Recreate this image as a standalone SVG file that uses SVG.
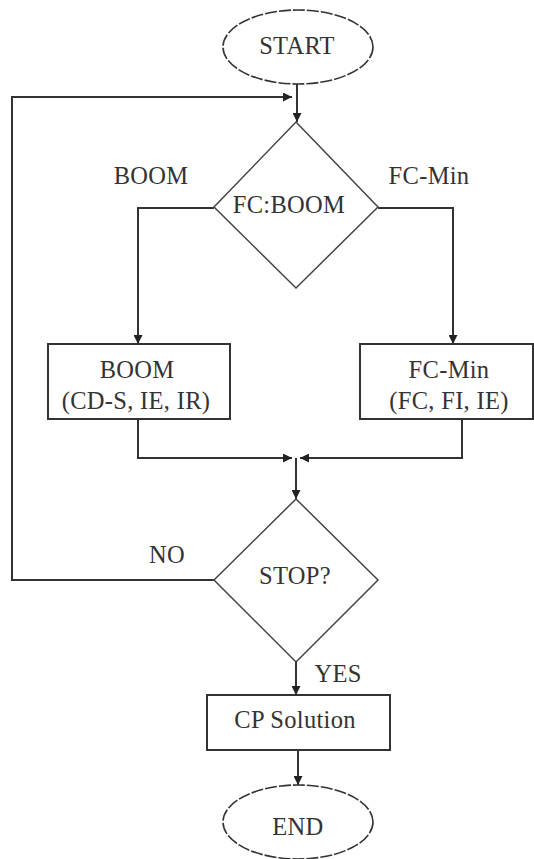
<svg xmlns="http://www.w3.org/2000/svg" width="534" height="859" viewBox="0 0 534 859">
  <defs>
    <marker id="arrow" viewBox="0 0 10 10" refX="10" refY="5" markerWidth="4.5" markerHeight="4.5" orient="auto" markerUnits="strokeWidth">
      <path d="M0,0 L10,5 L0,10 z" fill="#222"/>
    </marker>
    <style>
      .shape { fill: #fff; stroke: #333; stroke-width: 2; }
      .diamond { fill: #fff; stroke: #444; stroke-width: 1.5; }
      .term { fill: #fff; stroke: #333; stroke-width: 1.6; stroke-dasharray: 12 2; }
      .edge { fill: none; stroke: #333; stroke-width: 2; }
      .arr { marker-end: url(#arrow); }
      text { font-family: 'Liberation Serif', 'Times New Roman', serif; font-size: 24.5px; letter-spacing: 0.3px; fill: #333; text-anchor: middle; }
    </style>
  </defs>
  <rect width="534" height="859" fill="#fff"/>

  <g id="connectors">
    <path class="edge arr" d="M297,84 V122"/>
    <path class="edge arr" d="M214,580 H12 V97 H292"/>
    <path class="edge arr" d="M214,208 H138 V344"/>
    <path class="edge arr" d="M378,208 H453 V344"/>
    <path class="edge arr" d="M138,419 V458 H292"/>
    <path class="edge arr" d="M462,419 V458 H300"/>
    <path class="edge arr" d="M296,458 V499"/>
    <path class="edge arr" d="M296,662 V695"/>
    <path class="edge arr" d="M298,750 V785"/>
    <text x="151" y="184">BOOM</text>
    <text x="429" y="184">FC-Min</text>
    <text x="167" y="563">NO</text>
    <text x="338" y="682">YES</text>
  </g>

  <g id="start">
    <ellipse class="term" cx="298" cy="47" rx="75" ry="37"/>
    <text x="297" y="54">START</text>
  </g>

  <g id="fc-boom">
    <polygon class="diamond" points="296,122 378,207 296,288 214,207"/>
    <text x="289" y="213">FC:BOOM</text>
  </g>

  <g id="boom">
    <rect class="shape" x="48" y="344" width="182" height="75"/>
    <text x="137" y="378">BOOM</text>
    <text x="136" y="409">(CD-S, IE, IR)</text>
  </g>

  <g id="fc-min">
    <rect class="shape" x="360" y="344" width="173" height="75"/>
    <text x="449" y="378">FC-Min</text>
    <text x="449" y="409">(FC, FI, IE)</text>
  </g>

  <g id="stop">
    <polygon class="diamond" points="296,499 378,580 296,662 214,580"/>
    <text x="295" y="584">STOP?</text>
  </g>

  <g id="cp-solution">
    <rect class="shape" x="207" y="695" width="183" height="55"/>
    <text x="295" y="728">CP Solution</text>
  </g>

  <g id="end">
    <ellipse class="term" cx="298" cy="822" rx="75" ry="37"/>
    <text x="298" y="835">END</text>
  </g>
</svg>
